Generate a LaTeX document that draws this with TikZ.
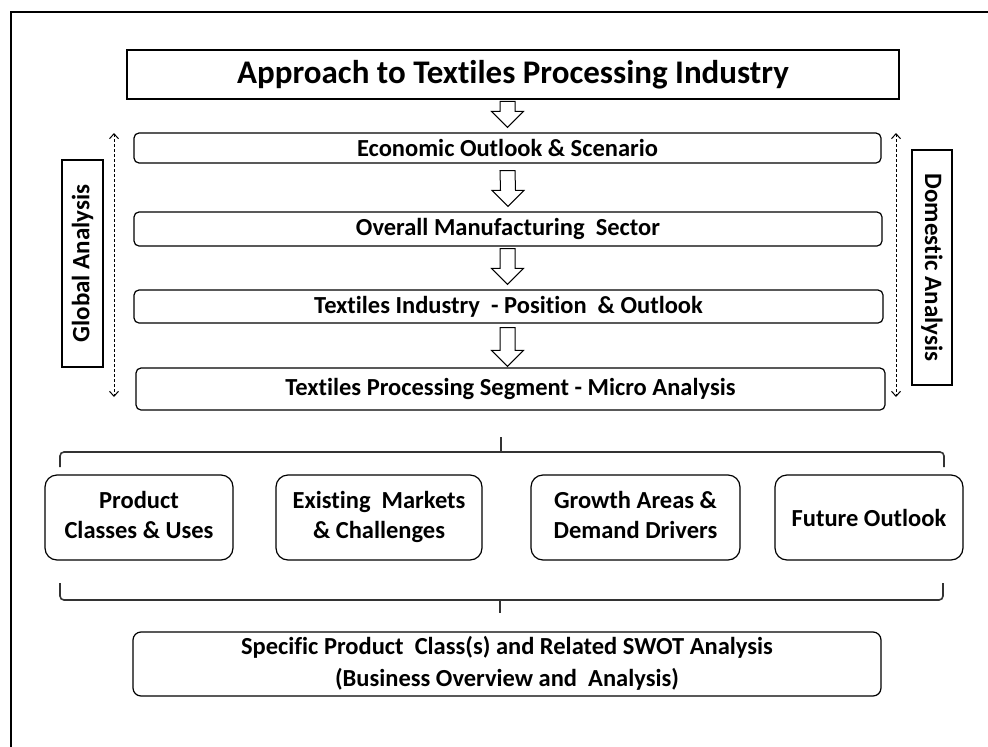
\documentclass[tikz,border=0pt]{standalone}
\usepackage{fontspec}
\setmainfont{Carlito}[Ligatures=NoCommon]
\usetikzlibrary{calc,arrows.meta}
\tikzset{
  boxtxt/.style={font=\bfseries\fontsize{24.5}{28}\selectfont, align=center, inner sep=0pt},
  rowbox/.style={boxtxt, draw, line width=1.2pt, rounded corners=5pt, anchor=center},
  smallbox/.style={boxtxt, draw, line width=1.2pt, rounded corners=12pt, anchor=center,
                   font=\bfseries\fontsize{24.5}{30}\selectfont},
  sidebox/.style={boxtxt, draw, line width=1.4pt, anchor=center},
  sidetxt/.style={boxtxt, font=\bfseries\fontsize{25}{28}\selectfont},
  hollow/.style={draw, line width=1pt, fill=white, line join=miter},
  sidearrow/.style={line width=1pt, dash pattern=on 3pt off 2pt,
                    {Straight Barb[length=5pt,width=9pt,line width=1pt]}-{Straight Barb[length=5pt,width=9pt,line width=1pt]}},
  bracket/.style={line width=1.6pt, draw=black!80, rounded corners=4pt},
}
\newcommand\hollowdown[2]{%
  \draw[hollow] ($(#1)+(-7.5,0)$) -- ($(#1)+(7.5,0)$) -- ($(#2)+(7.5,-16)$) -- ($(#2)+(16,-16)$)
    -- (#2) -- ($(#2)+(-16,-16)$) -- ($(#2)+(-7.5,-16)$) -- cycle;}
\begin{document}
\begin{tikzpicture}[x=1pt,y=-1pt]
\useasboundingbox (0,0) rectangle (988,747);
% outer frame (left and top edges)
\draw[line width=2pt] (11,747) -- (11,12) -- (988,12);
% title
\node[draw, line width=2.5pt, minimum width=772pt, minimum height=49pt, inner sep=0pt,
      font=\bfseries\fontsize{33}{36}\selectfont] (title) at (513,74.5) {Approach to Textiles Processing Industry};
% stage boxes
\node[rowbox, minimum width=747pt, minimum height=30pt] (eco) at (507.5,148) {Economic Outlook \& Scenario};
\node[rowbox, minimum width=748pt, minimum height=34pt] (overall) at (508,229) {Overall Manufacturing\ \ Sector};
\node[rowbox, minimum width=749pt, minimum height=33pt] (tind) at (508.5,306.5) {Textiles Industry\ \ - Position\ \ \& Outlook};
\node[rowbox, minimum width=749pt, minimum height=42pt] (tps) at (510.5,389) {Textiles Processing Segment - Micro Analysis};
% hollow arrows
\coordinate (a1s) at ($(title.south -| eco.north)+(0,1)$);
\coordinate (a1e) at ($(eco.north)+(0,-5)$);
\hollowdown{a1s}{a1e}
\coordinate (a2s) at ($(eco.south)+(0,7)$);
\coordinate (a2e) at ($(overall.north)+(0,-5)$);
\hollowdown{a2s}{a2e}
\coordinate (a3s) at ($(overall.south -| eco.south)+(0,2)$);
\coordinate (a3e) at ($(tind.north -| eco.south)+(0,-5)$);
\hollowdown{a3s}{a3e}
\coordinate (a4s) at ($(tind.south -| eco.south)+(0,4)$);
\coordinate (a4e) at ($(tps.north -| eco.south)+(0,-1)$);
\hollowdown{a4s}{a4e}
% side labels
\node[sidebox, minimum width=41pt, minimum height=207pt] (global) at (82.5,263.5) {};
\node[sidetxt, rotate=90] (globaltxt) at (global.center) {Global Analysis};
\node[sidebox, minimum width=40pt, minimum height=235pt] (domestic) at (932,267.5) {};
\node[sidetxt, rotate=-90] (domtxt) at (domestic.center) {Domestic Analysis};
% dashed side arrows
\coordinate (lt) at (114,133);
\coordinate (lb) at (114,397);
\coordinate (rt) at (896,133);
\coordinate (rb) at (896,397);
\draw[sidearrow] (lt) -- (lb);
\draw[sidearrow] (rt) -- (rb);
% upper bracket
\coordinate (ub1) at (60,467);
\coordinate (ub2) at (944,467);
\coordinate (ubm) at (501,437);
\draw[bracket] (ub1) -- (60,452) -- (944,452) -- (ub2);
\draw[bracket] (ubm) -- (501,452);
% four boxes
\node[smallbox, minimum width=188pt, minimum height=85pt] (b1) at (139,517.5) {\strut Product\\\strut Classes \& Uses};
\node[smallbox, minimum width=206pt, minimum height=85pt] (b2) at (379,517.5) {\strut Existing\ \ Markets\\\strut\& Challenges};
\node[smallbox, minimum width=209pt, minimum height=85pt] (b3) at (635.5,517.5) {\strut Growth Areas \&\\\strut Demand Drivers};
\node[smallbox, minimum width=188pt, minimum height=85pt] (b4) at (869,517.5) {Future Outlook};
% lower bracket
\coordinate (lb1) at (60,583);
\coordinate (lb2) at (943,583);
\coordinate (lbm) at (500,613);
\draw[bracket] (lb1) -- (60,600) -- (943,600) -- (lb2);
\draw[bracket] (500,600) -- (lbm);
% final box
\node[smallbox, rounded corners=8pt, minimum width=748pt, minimum height=64pt,
      font=\bfseries\fontsize{24.5}{32}\selectfont] (final) at (507,664)
  {\strut Specific Product\ \ Class(s) and Related SWOT Analysis\\\strut(Business Overview and\ \ Analysis)};
\end{tikzpicture}
\end{document}
